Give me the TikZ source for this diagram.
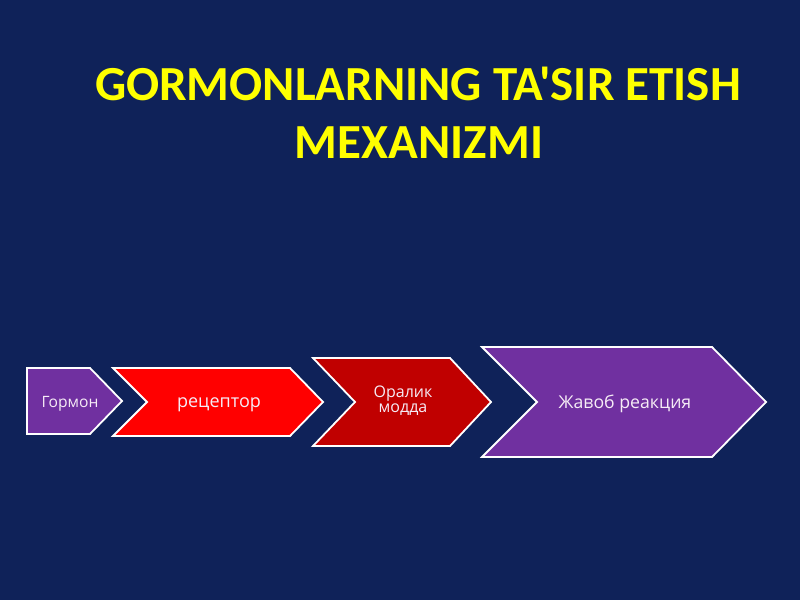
\documentclass[tikz,border=0pt]{standalone}
\usepackage{fontspec}
\setmainfont{Open Sans}
\newfontfamily\titlefont{Carlito}
\definecolor{bgnavy}{HTML}{0F2259}
\definecolor{titleyellow}{HTML}{FFFF00}
\definecolor{chevpurple}{HTML}{7030A0}
\definecolor{chevred}{HTML}{FF0000}
\definecolor{chevdark}{HTML}{C00000}
\definecolor{labeltext}{HTML}{F6ECF6}
\tikzset{
  chev/.style={draw=white, line width=1.8pt, line join=miter},
  lbl/.style={text=labeltext, align=center, inner sep=0pt, anchor=base},
  ttl/.style={text=titleyellow, font=\titlefont\bfseries\fontsize{49}{59}\selectfont, anchor=base, inner sep=0pt}
}
\begin{document}
\begin{tikzpicture}[x=1pt,y=-1pt]
\fill[bgnavy] (0,0) rectangle (800,600);
\useasboundingbox (0,0) rectangle (800,600);
% title
\node[ttl] (t1) at (418,100) {GORMONLARNING TA'SIR ETISH};
\node[ttl] (t2) at (419,158) {MEXANIZMI};
% chevrons
\fill[chevpurple, chev] (27,368) -- (90,368) -- (122,401) -- (90,434) -- (27,434) -- cycle;
\fill[chevred, chev] (113,368) -- (290,368) -- (323,402) -- (290,436) -- (113,436) -- (147,402) -- cycle;
\fill[chevdark, chev] (313,358) -- (450,358) -- (491,402) -- (450,446) -- (313,446) -- (355,402) -- cycle;
\fill[chevpurple, chev] (482,347) -- (712,347) -- (766,402) -- (712,457) -- (482,457) -- (537,402) -- cycle;
% labels
\node[lbl, font=\fontsize{15.6}{18}\selectfont] (n1) at (70,407) {Гормон};
\node[lbl, font=\fontsize{18}{20}\selectfont] (n2) at (219,407) {рецептор};
\node[lbl, font=\fontsize{16}{14.5}\selectfont] (n3) at (403,412) {Оралик\\модда};
\node[lbl, font=\fontsize{17.7}{20}\selectfont] (n4) at (625,408) {Жавоб реакция};
\end{tikzpicture}
\end{document}
